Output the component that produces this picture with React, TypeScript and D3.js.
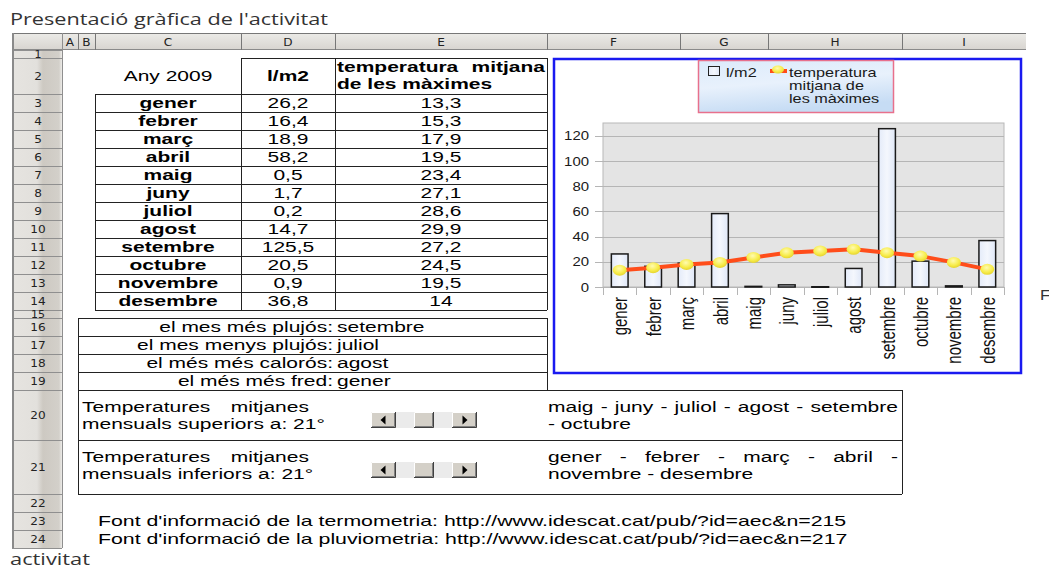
import React from 'react';
import * as d3 from 'd3';

// ---- data ----
const months = ['gener', 'febrer', 'març', 'abril', 'maig', 'juny', 'juliol', 'agost', 'setembre', 'octubre', 'novembre', 'desembre'];
const rainfall = [26.2, 16.4, 18.9, 58.2, 0.5, 1.7, 0.2, 14.7, 125.5, 20.5, 0.9, 36.8];
const tempMax = [13.3, 15.3, 17.9, 19.5, 23.4, 27.1, 28.6, 29.9, 27.2, 24.5, 19.5, 14];
const yTicks = [0, 20, 40, 60, 80, 100, 120];
const columnLabels = ['A', 'B', 'C', 'D', 'E', 'F', 'G', 'H', 'I'];
const rowLabels = ['1', '2', '3', '4', '5', '6', '7', '8', '9', '10', '11', '12', '13', '14', '15', '16', '17', '18', '19', '20', '21', '22', '23', '24'];
const summaryLabels = ['el mes més plujós:', 'el mes menys plujós:', 'el més més calorós:', 'el més més fred:'];
const summaryValues = ['setembre', 'juliol', 'agost', 'gener'];
const thresholdLines = [
  ['Temperatures mitjanes', 'mensuals superiors a: 21°'],
  ['Temperatures mitjanes', 'mensuals inferiors a: 21°'],
];
const monthLists = [
  ['maig - juny - juliol - agost - setembre', '- octubre'],
  ['gener - febrer - març - abril -', 'novembre - desembre'],
];
const sources = [
  "Font d'informació de la termometria: http://www.idescat.cat/pub/?id=aec&n=215",
  "Font d'informació de la pluviometria: http://www.idescat.cat/pub/?id=aec&n=217",
];
const rainLabel = 'l/m2';
const tempLabel = ['temperatura', 'mitjana de', 'les màximes'];
const tableHead = ['Any 2009', 'l/m2', 'temperatura mitjana', 'de les màximes'];

// ---- layout ----
const W = 1049;
const H = 570;
const SX = 1.4; // the sheet text is drawn wide
const CELL = '"Liberation Sans", Arial, sans-serif';
const HDR = '"DejaVu Sans", sans-serif';
const colEdges = [12, 62, 78, 95, 241, 335, 547, 680, 768, 902, 1026];
const rowHeights = [8, 36, 18, 18, 18, 18, 18, 18, 18, 18, 18, 18, 18, 18, 8, 18, 18, 18, 18, 50, 54, 18, 18, 18];
const HEAD_TOP = 33;
const HEAD_BOTTOM = 50;
const edges = [HEAD_BOTTOM, ...Array.from(d3.cumsum(rowHeights), (v) => HEAD_BOTTOM + v)];
const top = (r: number) => edges[r - 1];
const bot = (r: number) => edges[r];

const fmt = (v: number) => String(v).replace('.', ',');

let ctx: CanvasRenderingContext2D | null = null;
function measure(s: string, font: string) {
  if (!ctx) ctx = document.createElement('canvas').getContext('2d');
  ctx!.font = font;
  return ctx!.measureText(s).width;
}

function justify(line: string, x0: number, x1: number, bold: boolean) {
  const words = line.split(' ');
  const font = `${bold ? 'bold ' : ''}15px "Liberation Sans"`;
  const widths = words.map((w) => measure(w, font) * SX);
  const gap = (x1 - x0 - d3.sum(widths)) / (words.length - 1);
  let x = x0;
  return words.map((w, i) => {
    const o = { w, x };
    x += widths[i] + gap;
    return o;
  });
}

function T({ x, y, anchor = 'start', size = 15, bold = false, sx = SX, fill = '#000', family = CELL, dy, children }: any) {
  return (
    <text transform={`translate(${x},${y}) scale(${sx},1)`} textAnchor={anchor} fontSize={size}
      fontWeight={bold ? 'bold' : 'normal'} fontFamily={family} fill={fill} dy={dy}>
      {children}
    </text>
  );
}

function Justified({ line, x0, x1, y, bold = false }: any) {
  return (
    <g>
      {justify(line, x0, x1, bold).map((p, i) => (
        <T key={i} x={p.x} y={y} bold={bold}>{p.w}</T>
      ))}
    </g>
  );
}

function Button({ x, w, h, dir }: any) {
  const cx = x + w / 2;
  const cy = h / 2;
  const pts = dir < 0
    ? `${cx - 3},${cy} ${cx + 2},${cy - 4.5} ${cx + 2},${cy + 4.5}`
    : `${cx + 3},${cy} ${cx - 2},${cy - 4.5} ${cx - 2},${cy + 4.5}`;
  return (
    <g>
      <rect x={x} y={0} width={w} height={h} fill="#d4d0c8" />
      <path d={`M${x + 0.5},${h - 1} V0.5 H${x + w - 1}`} stroke="#fff" fill="none" />
      <path d={`M${x},${h - 0.5} H${x + w - 0.5} V0`} stroke="#404040" fill="none" />
      <path d={`M${x + 1},${h - 1.5} H${x + w - 1.5} V1`} stroke="#808080" fill="none" />
      {dir !== 0 && <polygon points={pts} fill="#000" />}
    </g>
  );
}

function ScrollBar({ x, y }: any) {
  return (
    <g transform={`translate(${x},${y})`}>
      <rect width={106} height={16} fill="#ebebeb" />
      <Button x={0} w={25} h={16} dir={-1} />
      <Button x={43} w={20} h={16} dir={0} />
      <Button x={81} w={25} h={16} dir={1} />
    </g>
  );
}

function Chart() {
  const x = d3.scaleBand<string>().domain(months).range([603, 1004]);
  const y = d3.scaleLinear().domain([0, 130]).range([287, 123]);
  const bw = x.bandwidth();
  const cx = (m: string) => (x(m) as number) + bw / 2;
  const line = d3.line<number>().x((_, i) => cx(months[i])).y((d) => y(d));
  const [x0, x1] = x.range();
  const [y0, y1] = y.range();
  return (
    <g>
      <rect x={554} y={59} width={467} height={314} fill="#fff" stroke="#1a1af0" strokeWidth={2.5} />
      {/* legend */}
      <rect x={698.5} y={60.5} width={195} height={52} fill="url(#legendFill)" stroke="#e8708c" strokeWidth={1.5} />
      <rect x={708.5} y={66.5} width={11} height={9} fill="url(#barFill)" stroke="#222" />
      <T x={726} y={77} size={13} sx={1.25} fill="#1a1a1a">{rainLabel}</T>
      <line x1={770} x2={787} y1={71} y2={71} stroke="#ff4d1a" strokeWidth={4} />
      <ellipse cx={778} cy={69.5} rx={6} ry={4} fill="url(#dotFill)" />
      {tempLabel.map((t, i) => (
        <T key={i} x={789} y={77 + i * 13} size={13} sx={1.25} fill="#1a1a1a">{t}</T>
      ))}
      {/* plot area */}
      <rect x={x0} y={y1} width={x1 - x0} height={y0 - y1} fill="#e4e4e4" stroke="#b8b8b8" />
      {yTicks.map((t) => (
        <g key={t}>
          <line x1={x0 - 8} x2={x1} y1={Math.round(y(t)) + 0.5} y2={Math.round(y(t)) + 0.5} stroke="#b5b5b5" />
          <T x={589} y={y(t)} dy="0.36em" anchor="end" size={13} sx={1.15} fill="#1a1a1a">{t}</T>
        </g>
      ))}
      {[...months.map((m) => x(m) as number), x1].map((v, i) => (
        <line key={i} x1={Math.round(v) + 0.5} x2={Math.round(v) + 0.5} y1={y0} y2={y0 + 8} stroke="#b5b5b5" />
      ))}
      {/* bars */}
      {months.map((m, i) => (
        <rect key={m} x={(x(m) as number) + bw * 0.25} y={y(rainfall[i])} width={bw * 0.5}
          height={Math.max(y0 - y(rainfall[i]), 0.5)} fill="url(#barFill)" stroke="#1a1a1a" strokeWidth={1.5} />
      ))}
      {/* temperature line */}
      <path d={line(tempMax) as string} fill="none" stroke="#ff4d1a" strokeWidth={4} strokeLinejoin="round" />
      {months.map((m, i) => (
        <ellipse key={m} cx={cx(m)} cy={y(tempMax[i])} rx={7} ry={5.5} fill="url(#dotFill)" />
      ))}
      {/* category labels */}
      {months.map((m) => (
        <text key={m} transform={`translate(${cx(m)},${y0 + 10}) scale(1.4,1) rotate(-90)`} textAnchor="end"
          dy="0.36em" fontSize={15} fontFamily={CELL} fill="#111">{m}</text>
      ))}
    </g>
  );
}

export default function App() {
  const cC = (colEdges[3] + colEdges[4]) / 2;
  const cD = (colEdges[4] + colEdges[5]) / 2;
  const cE = (colEdges[5] + colEdges[6]) / 2;
  const L = colEdges[2];
  const R = colEdges[9];
  const ink = '#222';
  const h = (yy: number, a: number, b: number, c = ink) => (
    <line x1={a} x2={b} y1={yy + 0.5} y2={yy + 0.5} stroke={c} />
  );
  const v = (xx: number, a: number, b: number, c = ink) => (
    <line x1={xx + 0.5} x2={xx + 0.5} y1={a} y2={b} stroke={c} />
  );

  return (
    <svg width={W} height={H} style={{ position: 'absolute', left: 0, top: 0, background: '#fff' }}>
      <defs>
        <linearGradient id="rowHdr" x1="0" x2="1" y1="0" y2="0">
          <stop offset="0" stopColor="#e6e4e0" />
          <stop offset="0.5" stopColor="#e2e0dc" />
          <stop offset="0.62" stopColor="#cdc9c2" />
          <stop offset="0.94" stopColor="#d3d0ca" />
          <stop offset="1" stopColor="#ecebe8" />
        </linearGradient>
        <linearGradient id="colHdr" x1="0" x2="0" y1="0" y2="1">
          <stop offset="0" stopColor="#ecebe8" />
          <stop offset="1" stopColor="#d7d4cf" />
        </linearGradient>
        <linearGradient id="legendFill" x1="0" x2="0.3" y1="0" y2="1">
          <stop offset="0" stopColor="#dcebfb" />
          <stop offset="0.5" stopColor="#e8f1fc" />
          <stop offset="1" stopColor="#c6dcf4" />
        </linearGradient>
        <linearGradient id="barFill" x1="0" x2="1" y1="0" y2="0">
          <stop offset="0" stopColor="#e4ebf9" />
          <stop offset="0.5" stopColor="#f4f7fd" />
          <stop offset="1" stopColor="#dfe7f7" />
        </linearGradient>
        <radialGradient id="dotFill" cx="0.45" cy="0.35" r="0.7">
          <stop offset="0" stopColor="#fffbb0" />
          <stop offset="0.6" stopColor="#f7ec4a" />
          <stop offset="1" stopColor="#e2cf2a" />
        </radialGradient>
      </defs>

      <text x={10} y={25} fontSize={16} fontFamily='"Open Sans", sans-serif' fill="#333"
        textLength={318} lengthAdjust="spacingAndGlyphs">Presentació gràfica de l'activitat</text>

      {/* column header row */}
      <rect x={colEdges[0]} y={HEAD_TOP} width={colEdges[10] - colEdges[0]} height={HEAD_BOTTOM - HEAD_TOP} fill="url(#colHdr)" />
      {h(HEAD_TOP, colEdges[0], colEdges[10], '#777')}
      {h(HEAD_BOTTOM - 1, colEdges[0], colEdges[10], '#8a8a8a')}
      {colEdges.slice(1, 10).map((e, i) => <g key={i}>{v(e, HEAD_TOP, HEAD_BOTTOM, '#777')}</g>)}
      {columnLabels.map((c, i) => (
        <T key={c} x={(colEdges[i + 1] + colEdges[i + 2]) / 2} y={46} anchor="middle" size={11} sx={1.1} family={HDR} fill="#222">{c}</T>
      ))}

      {/* row header column */}
      <rect x={colEdges[0]} y={HEAD_BOTTOM} width={colEdges[1] - colEdges[0]} height={edges[24] - HEAD_BOTTOM} fill="url(#rowHdr)" />
      {edges.map((e, i) => <g key={i}>{h(e, colEdges[0], colEdges[1], '#8f8f8f')}</g>)}
      <line x1={13} x2={13} y1={HEAD_TOP} y2={edges[24]} stroke="#8a8a8a" strokeWidth={2} />
      {v(colEdges[1], HEAD_TOP, edges[24], '#8f8f8f')}
      {rowLabels.map((r, i) => (
        <T key={r} x={(colEdges[0] + colEdges[1]) / 2 + 1} y={(edges[i] + edges[i + 1]) / 2} dy="0.36em" anchor="middle"
          size={rowHeights[i] < 10 ? 10 : 11} sx={1.1} family={HDR} fill="#222">{r}</T>
      ))}

      {/* header cells */}
      <T x={cC} y={81} anchor="middle">{tableHead[0]}</T>
      <T x={cD} y={81} anchor="middle" bold>{tableHead[1]}</T>
      <Justified line={tableHead[2]} x0={colEdges[5] + 2} x1={colEdges[6] - 2} y={72} bold />
      <T x={colEdges[5] + 2} y={89} bold>{tableHead[3]}</T>

      {/* data table */}
      {months.map((m, i) => {
        const yy = top(i + 3) + 14;
        return (
          <g key={m}>
            <T x={cC} y={yy} anchor="middle" bold>{m}</T>
            <T x={cD} y={yy} anchor="middle">{fmt(rainfall[i])}</T>
            <T x={cE} y={yy} anchor="middle">{fmt(tempMax[i])}</T>
          </g>
        );
      })}
      {h(top(2), colEdges[4], colEdges[6])}
      {d3.range(3, 16).map((r) => <g key={r}>{h(top(r), colEdges[3], colEdges[6])}</g>)}
      {v(colEdges[3], top(3), bot(14))}
      {v(colEdges[4], top(2), bot(14))}
      {v(colEdges[5], top(2), bot(14))}
      {v(colEdges[6], top(2), bot(14))}

      {/* summary rows */}
      {summaryLabels.map((s, i) => {
        const yy = top(16 + i) + 14;
        return (
          <g key={s}>
            <T x={colEdges[5] - 2} y={yy} anchor="end">{s}</T>
            <T x={colEdges[5] + 2} y={yy}>{summaryValues[i]}</T>
          </g>
        );
      })}
      {d3.range(16, 21).map((r) => <g key={r}>{h(top(r), L, colEdges[6])}</g>)}
      {v(L, top(16), bot(19))}
      {v(colEdges[6], top(16), bot(19))}

      {/* threshold rows */}
      {thresholdLines.map((lines, i) => {
        const t0 = top(20 + i);
        return (
          <g key={i}>
            <Justified line={lines[0]} x0={82} x1={309} y={t0 + 21.5} />
            <T x={82} y={t0 + 38.5}>{lines[1]}</T>
            <ScrollBar x={371} y={t0 + 22} />
            <Justified line={monthLists[i][0]} x0={colEdges[6] + 1} x1={R - 4} y={t0 + 21.5} />
            <T x={colEdges[6] + 1} y={t0 + 38.5}>{monthLists[i][1]}</T>
          </g>
        );
      })}
      {h(top(20), L, R)}
      {h(top(21), L, R)}
      {h(bot(21), L, R)}
      {v(L, top(20), bot(21))}
      {v(R, top(20), bot(21))}

      {/* sources */}
      {sources.map((s, i) => (
        <T key={i} x={98} y={top(23 + i) + 14} sx={1.42}>{s}</T>
      ))}

      <Chart />

      <T x={1040} y={300} size={14} sx={1.2} fill="#333">F</T>

      <text x={10} y={565} fontSize={16} fontFamily='"Open Sans", sans-serif' fill="#333"
        textLength={80} lengthAdjust="spacingAndGlyphs">activitat</text>
    </svg>
  );
}
